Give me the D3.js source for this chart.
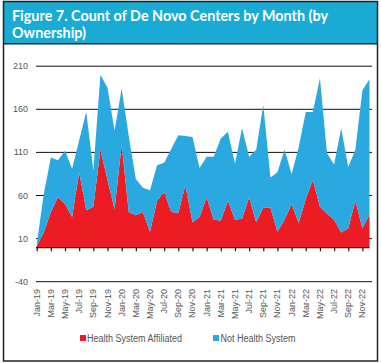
<!DOCTYPE html>
<html><head><meta charset="utf-8">
<script src="https://cdn.jsdelivr.net/npm/d3@7"></script>
<style>body{margin:0;background:#fff}svg{display:block}</style>
</head><body>
<svg id="c" width="381" height="363"></svg>
<script>
const months = ["Jan-19","Feb-19","Mar-19","Apr-19","May-19","Jun-19","Jul-19","Aug-19","Sep-19","Oct-19","Nov-19","Dec-19",
"Jan-20","Feb-20","Mar-20","Apr-20","May-20","Jun-20","Jul-20","Aug-20","Sep-20","Oct-20","Nov-20","Dec-20",
"Jan-21","Feb-21","Mar-21","Apr-21","May-21","Jun-21","Jul-21","Aug-21","Sep-21","Oct-21","Nov-21","Dec-21",
"Jan-22","Feb-22","Mar-22","Apr-22","May-22","Jun-22","Jul-22","Aug-22","Sep-22","Oct-22","Nov-22","Dec-22"];
const healthSystem = [1,17,41,58,50,35,87,43,47,113,78,44,119,41,37,41,18,54,64,41,40,72,29,35,58,32,31,54,32,33,58,29,46,46,18,32,50,28,56,78,47,39,32,17,22,54,22,38];
const notHealthSystem = [2,45,63,43,62,56,37,114,42,87,107,91,65,88,42,28,48,41,34,73,90,57,99,57,47,73,95,80,65,105,47,84,119,35,69,81,35,88,101,79,149,70,64,121,71,59,160,157];
const seriesNames = ["Health System Affiliated","Not Health System"];
const colors = ["#ED1C24","#29A9E0"];
const yTicks = [-40,10,60,110,160,210];
const titleLines = ["Figure 7. Count of De Novo Centers by Month (by","Ownership)"];

const svg = d3.select("#c");
const labelColor = "#555";
const font = "'Liberation Sans Narrow','Liberation Sans',Arial,sans-serif";

// title bar
svg.append("rect").attr("x",3.5).attr("y",1.5).attr("width",374).attr("height",42).attr("fill","#1AABD4");
const tt = svg.append("text").attr("fill","#fff").attr("font-family","Lato,'Open Sans',sans-serif")
  .attr("font-weight","bold").attr("font-size",14.5);
tt.append("tspan").attr("x",12).attr("y",20.5).attr("textLength",316).attr("lengthAdjust","spacingAndGlyphs").text(titleLines[0]);
tt.append("tspan").attr("x",12).attr("y",37.8).attr("textLength",74).attr("lengthAdjust","spacingAndGlyphs").text(titleLines[1]);
// frame
svg.append("rect").attr("x",3.5).attr("y",1.5).attr("width",374).attr("height",359.5).attr("fill","none").attr("stroke","#222").attr("stroke-width",1.5);
svg.append("line").attr("x1",3.5).attr("x2",377.5).attr("y1",43.8).attr("y2",43.8).attr("stroke","#222").attr("stroke-width",1.5);

const x = d3.scalePoint().domain(months).range([36.7,369.5]);
const y = d3.scaleLinear().domain([-40,210]).range([281.7,66.2]);

// gridlines
svg.append("g").selectAll("line").data(yTicks).join("line")
  .attr("x1",36).attr("x2",372).attr("y1",d=>y(d)).attr("y2",d=>y(d))
  .attr("stroke","#111").attr("stroke-width",1);

// stacked areas
const table = months.map((m,i)=>({month:m, hs:healthSystem[i], nhs:notHealthSystem[i]}));
const stack = d3.stack().keys(["hs","nhs"])(table);
const area = d3.area().x(d=>x(d.data.month)).y0(d=>y(d[0])).y1(d=>y(d[1]));
svg.append("g").selectAll("path").data(stack).join("path")
  .attr("d",area).attr("fill",(d,i)=>colors[i]);

// y labels
svg.append("g").selectAll("text").data(yTicks).join("text")
  .attr("x",28).attr("y",d=>y(d)+3).attr("text-anchor","end")
  .attr("font-family",font).attr("font-size",9).attr("fill",labelColor).text(d=>d);

// x axis at zero
const shown = months.filter((m,i)=>i%2===0);
const xAxis = d3.axisBottom(x).tickValues(shown).tickSize(4).tickFormat("");
const ax = svg.append("g").attr("transform",`translate(0,${y(0)})`).call(xAxis);
ax.select(".domain").attr("d",`M36,0.5H369.5`).attr("stroke","#111").attr("stroke-width",1.2);
ax.selectAll(".tick line").attr("stroke","#111").attr("stroke-width",1.2);

// x labels rotated
svg.append("g").selectAll("text").data(shown).join("text")
  .attr("transform",d=>`translate(${x(d)+3},289) rotate(-90)`)
  .attr("text-anchor","end").attr("font-family",font).attr("font-size",9).attr("fill",labelColor).text(d=>d);

// legend
const legend = [{x:80,tx:87,w:95},{x:213,tx:220.5,w:75}];
legend.forEach((l,i)=>{
  svg.append("rect").attr("x",l.x).attr("y",335).attr("width",6).attr("height",6).attr("fill",colors[i]);
  svg.append("text").attr("x",l.tx).attr("y",342).attr("font-family",font).attr("font-size",10)
    .attr("textLength",l.w).attr("lengthAdjust","spacingAndGlyphs").attr("fill",labelColor).text(seriesNames[i]);
});
</script>
</body></html>
